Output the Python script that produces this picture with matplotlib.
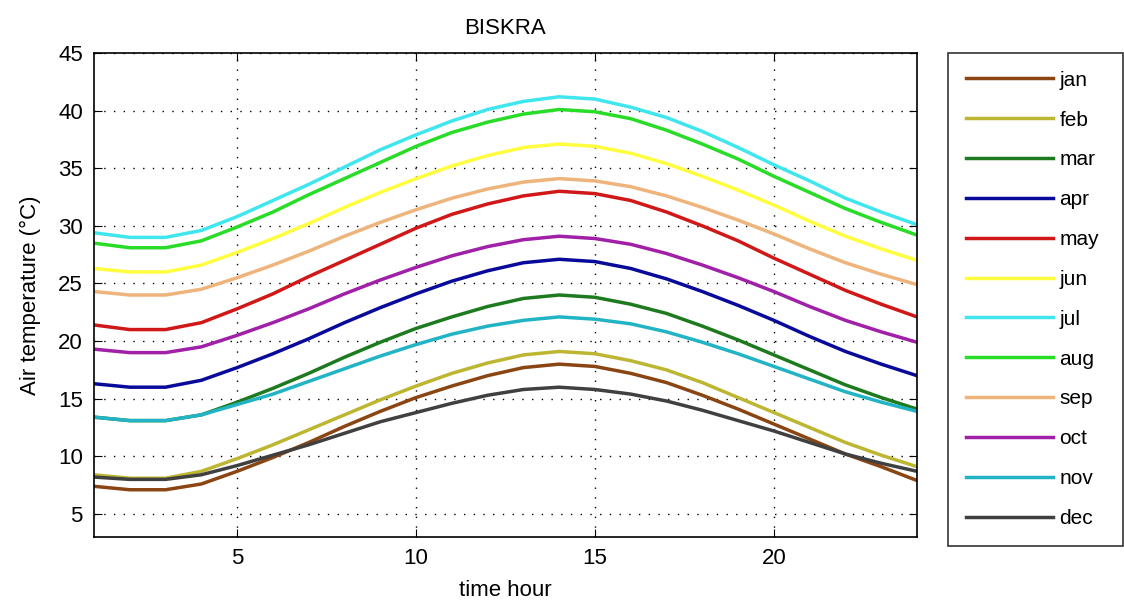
import numpy as np
import matplotlib
matplotlib.use("Agg")
import matplotlib.pyplot as plt

# hourly air temperature for Biskra
hours = list(range(1, 25))

jan = [7.4, 7.1, 7.1, 7.6, 8.7, 9.9, 11.2, 12.6, 13.9, 15.1, 16.1, 17.0,
       17.7, 18.0, 17.8, 17.2, 16.4, 15.3, 14.1, 12.8, 11.5, 10.2, 9.1, 7.9]
feb = [8.4, 8.1, 8.1, 8.7, 9.8, 11.0, 12.3, 13.6, 14.9, 16.1, 17.2, 18.1,
       18.8, 19.1, 18.9, 18.3, 17.5, 16.4, 15.1, 13.8, 12.5, 11.2, 10.1, 9.1]
mar = [13.4, 13.1, 13.1, 13.6, 14.7, 15.9, 17.2, 18.6, 19.9, 21.1, 22.1, 23.0,
       23.7, 24.0, 23.8, 23.2, 22.4, 21.3, 20.1, 18.8, 17.5, 16.2, 15.1, 14.1]
apr = [16.3, 16.0, 16.0, 16.6, 17.7, 18.9, 20.2, 21.6, 22.9, 24.1, 25.2, 26.1,
       26.8, 27.1, 26.9, 26.3, 25.4, 24.3, 23.1, 21.8, 20.4, 19.1, 18.0, 17.0]
may = [21.4, 21.0, 21.0, 21.6, 22.8, 24.1, 25.6, 27.0, 28.4, 29.8, 31.0, 31.9,
       32.6, 33.0, 32.8, 32.2, 31.2, 30.0, 28.7, 27.2, 25.8, 24.4, 23.2, 22.1]
jun = [26.3, 26.0, 26.0, 26.6, 27.7, 28.9, 30.2, 31.6, 32.9, 34.1, 35.2, 36.1,
       36.8, 37.1, 36.9, 36.3, 35.4, 34.3, 33.1, 31.8, 30.4, 29.1, 28.0, 27.0]
jul = [29.4, 29.0, 29.0, 29.6, 30.8, 32.2, 33.6, 35.1, 36.6, 37.9, 39.1, 40.1,
       40.8, 41.2, 41.0, 40.3, 39.4, 38.2, 36.8, 35.3, 33.9, 32.4, 31.2, 30.1]
aug = [28.5, 28.1, 28.1, 28.7, 29.9, 31.2, 32.7, 34.1, 35.5, 36.9, 38.1, 39.0,
       39.7, 40.1, 39.9, 39.3, 38.3, 37.1, 35.8, 34.3, 32.9, 31.5, 30.3, 29.2]
sep = [24.3, 24.0, 24.0, 24.5, 25.5, 26.6, 27.8, 29.1, 30.3, 31.4, 32.4, 33.2,
       33.8, 34.1, 33.9, 33.4, 32.6, 31.6, 30.5, 29.3, 28.0, 26.8, 25.8, 24.9]
oct = [19.3, 19.0, 19.0, 19.5, 20.5, 21.6, 22.8, 24.1, 25.3, 26.4, 27.4, 28.2,
       28.8, 29.1, 28.9, 28.4, 27.6, 26.6, 25.5, 24.3, 23.0, 21.8, 20.8, 19.9]
nov = [13.4, 13.1, 13.1, 13.6, 14.5, 15.4, 16.5, 17.6, 18.7, 19.7, 20.6, 21.3,
       21.8, 22.1, 21.9, 21.5, 20.8, 19.9, 18.9, 17.8, 16.7, 15.6, 14.7, 13.9]
dec = [8.2, 8.0, 8.0, 8.4, 9.2, 10.1, 11.0, 12.0, 13.0, 13.8, 14.6, 15.3,
       15.8, 16.0, 15.8, 15.4, 14.8, 14.0, 13.1, 12.2, 11.2, 10.2, 9.4, 8.7]

months = ["jan", "feb", "mar", "apr", "may", "jun",
          "jul", "aug", "sep", "oct", "nov", "dec"]
series = [jan, feb, mar, apr, may, jun, jul, aug, sep, oct, nov, dec]
colors = ["#8B4513", "#BDB632", "#1E7A1E", "#0A0A9A", "#D01818", "#FFFF40",
          "#40E6EE", "#28DC28", "#EEB47C", "#A020A8", "#22B4C4", "#404040"]

plt.rcParams["font.family"] = ["Liberation Sans", "DejaVu Sans"]

W, H = 1124, 611
fig = plt.figure(figsize=(W / 100, H / 100), dpi=100)
ax = fig.add_axes([94 / W, 74 / H, 823 / W, 484 / H])

lines = []
for name, vals, c in zip(months, series, colors):
    ln, = ax.plot(hours, vals, color=c, lw=2.5, label=name)
    lines.append(ln)

ax.set_xlim(1, 24)
ax.set_ylim(3, 45)
ax.set_xticks([5, 10, 15, 20])
ax.set_yticks(range(5, 46, 5))
ax.grid(True, color="black", linestyle=(0, (1, 6)), linewidth=1.0)
ax.tick_params(direction="in", top=True, right=True, labelsize=16, length=6,
               pad=8)
for sp in ax.spines.values():
    sp.set_linewidth(1.2)

ax.set_title("BISKRA", fontsize=16, pad=14)
ax.set_xlabel("time hour", fontsize=16, labelpad=8)
ax.set_ylabel("Air temperature (°C)", fontsize=16, labelpad=12)

leg = fig.legend(handles=lines, loc="upper left",
                 bbox_to_anchor=(948 / W, 72 / H, 175 / W, 486 / H),
                 mode="expand", fontsize=15, frameon=True, fancybox=False,
                 borderaxespad=0, handlelength=4.2, labelspacing=1.0,
                 handletextpad=0.3, borderpad=0.85)
leg.get_frame().set_edgecolor("black")
leg.get_frame().set_linewidth(1.2)

fig.savefig("out.png", dpi=100)
